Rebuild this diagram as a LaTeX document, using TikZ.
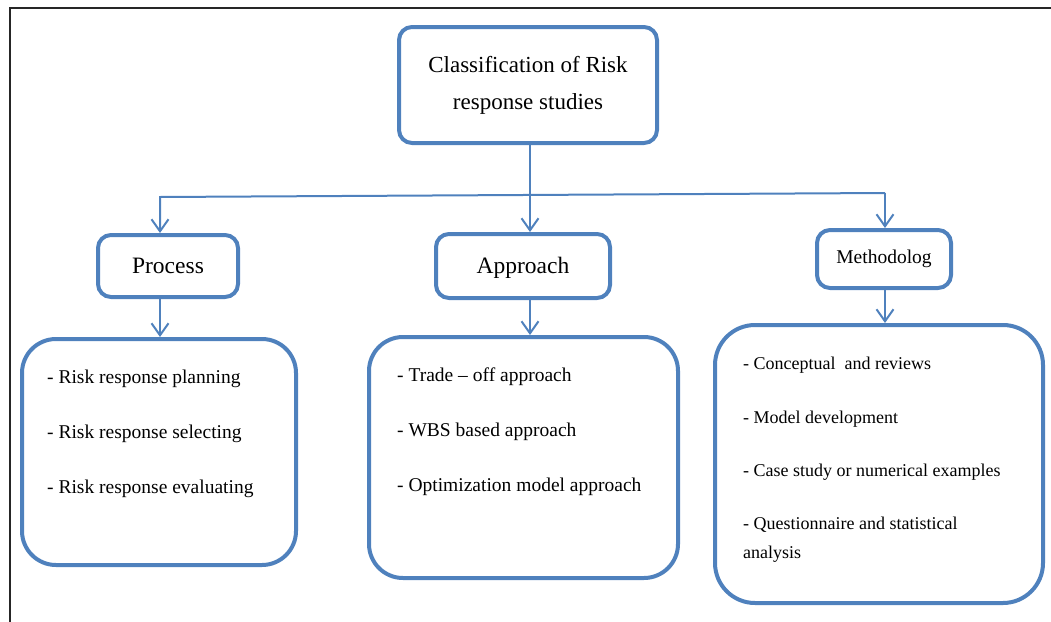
\documentclass[tikz,border=0pt]{standalone}
\usepackage{fontspec}
\setmainfont{Liberation Serif}
\usetikzlibrary{arrows.meta}
\definecolor{boxblue}{HTML}{4F81BD}

\tikzset{
    headbox/.style={draw=boxblue, line width=4pt, rounded corners=13pt, align=center},
    listbox/.style={draw=boxblue, line width=4pt, rounded corners=34pt},
    conn/.style={draw=boxblue, line width=2pt},
    link/.style={conn, -{Straight Barb[length=12pt,width=17pt]}},
    item/.style={anchor=west, inner sep=0pt, text height=1.5ex, text depth=.25ex, font=\fontsize{19.5}{23}\selectfont},
}

\begin{document}
\begin{tikzpicture}[x=1pt, y=-1pt]
    \useasboundingbox (0,0) rectangle (1051,621);
    \draw[line width=2.5pt, black!85] (10,640) -- (10,8) -- (1070,8); % outer frame, cut at the page

    % boxes
    \node[headbox, minimum width=258, minimum height=116, font=\fontsize{23}{37}\selectfont] (title) at (528,85) {Classification of Risk\\response studies};
    \node[headbox, minimum width=140, minimum height=62, font=\fontsize{23.5}{28}\selectfont] (process) at (168,266) {Process};
    \node[headbox, minimum width=174, minimum height=64, font=\fontsize{23.5}{28}\selectfont, text depth=.25ex] (approach) at (523,266) {Approach};
    \node[headbox, minimum width=134, minimum height=58, font=\fontsize{19.5}{24}\selectfont] (method) at (884,259) {Methodolog};

    \node[listbox, minimum width=274, minimum height=226] (plist) at (159,452) {};
    \node[listbox, minimum width=309, minimum height=241] (alist) at (523.5,457.5) {};
    \node[listbox, minimum width=328, minimum height=278, rounded corners=40pt] (mlist) at (879,464) {};

    % list texts
    \foreach \t [count=\i] in {Risk response planning, Risk response selecting, Risk response evaluating}
        \node[item] (p\i) at (47,{326+55*\i}) {- \t};
    \foreach \t [count=\i] in {Trade -- off approach, WBS based approach, Optimization model approach}
        \node[item] (a\i) at (397,{324+55*\i}) {- \t};
    \node[item, font=\fontsize{18}{22}\selectfont] (m1) at (743,367) {- Conceptual\ \ and reviews};
    \node[item, font=\fontsize{18}{22}\selectfont] (m2) at (743,421) {- Model development};
    \node[item, font=\fontsize{18}{22}\selectfont] (m3) at (743,474) {- Case study or numerical examples};
    \node[item, font=\fontsize{18}{22}\selectfont] (m4) at (743,527) {- Questionnaire and statistical};
    \node[item, font=\fontsize{18}{22}\selectfont] (m5) at (743,556) {analysis};

    % connectors
    \coordinate (jl) at (160,197);
    \coordinate (jm) at (530,195);
    \coordinate (jr) at (885,193);
    \draw[conn] (jm |- title.south) -- (jm);
    \draw[link] (jr) -- (jl) -- (process.north -| jl);
    \draw[link] (jm) -- (approach.north -| jm);
    \draw[link] (jr) -- (method.north -| jr);

    \draw[link] (process.south -| jl) -- (plist.north -| jl);
    \draw[link] (approach.south -| jm) -- (alist.north -| jm);
    \draw[link] (method.south -| jr) -- (mlist.north -| jr);
\end{tikzpicture}
\end{document}
